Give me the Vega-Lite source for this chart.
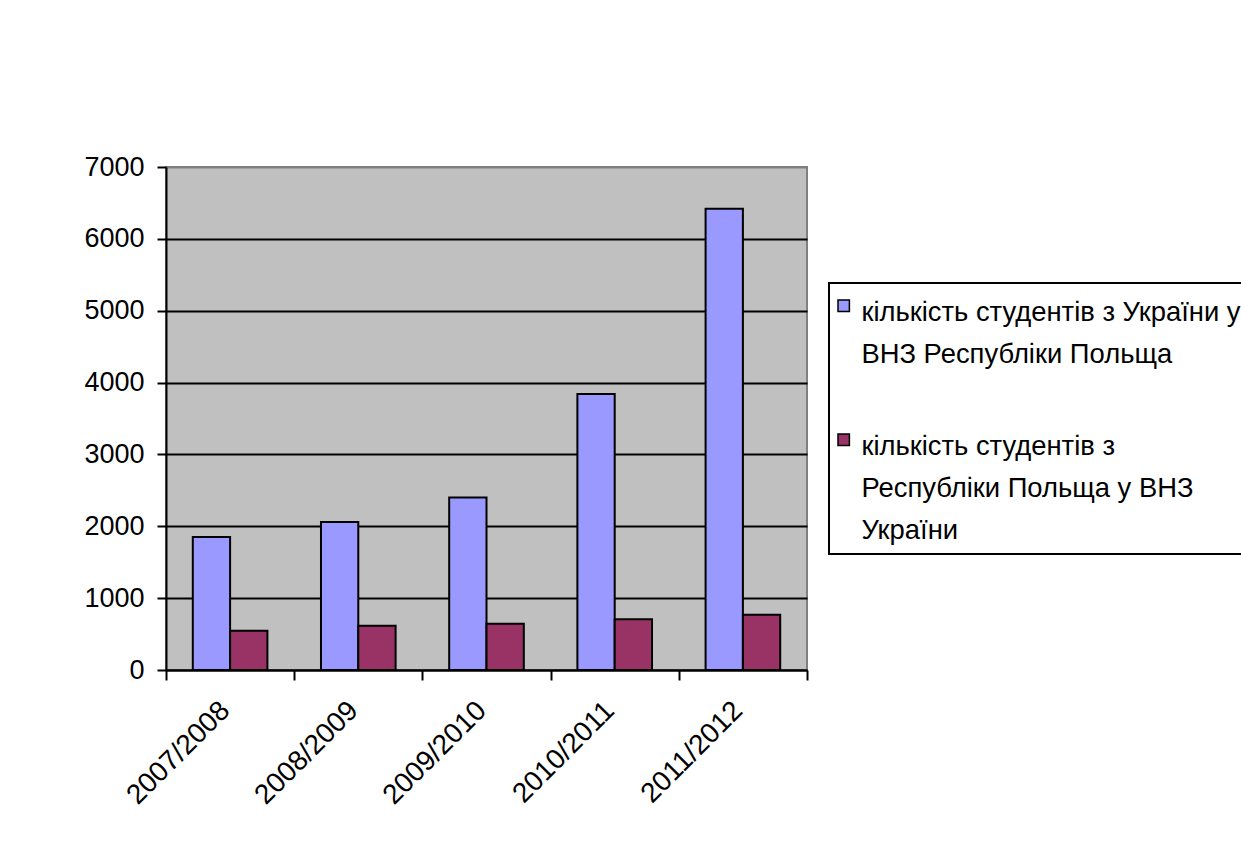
{
  "$schema": "https://vega.github.io/schema/vega-lite/v6.json",
  "width": 641,
  "height": 503,
  "autosize": {"type": "none"},
  "padding": {"left": 166, "top": 167, "right": 434, "bottom": 189},
  "background": "white",
  "data": {
    "values": [
      {"year": "2007/2008", "series": "кількість студентів з України у ВНЗ Республіки Польща", "value": 1850},
      {"year": "2007/2008", "series": "кількість студентів з Республіки Польща у ВНЗ України", "value": 545},
      {"year": "2008/2009", "series": "кількість студентів з України у ВНЗ Республіки Польща", "value": 2060},
      {"year": "2008/2009", "series": "кількість студентів з Республіки Польща у ВНЗ України", "value": 615},
      {"year": "2009/2010", "series": "кількість студентів з України у ВНЗ Республіки Польща", "value": 2400},
      {"year": "2009/2010", "series": "кількість студентів з Республіки Польща у ВНЗ України", "value": 645},
      {"year": "2010/2011", "series": "кількість студентів з України у ВНЗ Республіки Польща", "value": 3840},
      {"year": "2010/2011", "series": "кількість студентів з Республіки Польща у ВНЗ України", "value": 705},
      {"year": "2011/2012", "series": "кількість студентів з України у ВНЗ Республіки Польща", "value": 6420},
      {"year": "2011/2012", "series": "кількість студентів з Республіки Польща у ВНЗ України", "value": 770}
    ]
  },
  "mark": {"type": "bar", "stroke": "black", "strokeWidth": 2},
  "encoding": {
    "x": {
      "field": "year",
      "type": "nominal",
      "sort": null,
      "scale": {"paddingInner": 0, "paddingOuter": 0},
      "axis": {
        "title": null,
        "grid": false,
        "domainColor": "black",
        "domainWidth": 2,
        "tickColor": "black",
        "tickWidth": 2,
        "tickSize": 10,
        "tickBand": "extent",
        "labelAngle": -45,
        "labelAlign": "right",
        "labelBaseline": "middle",
        "labelFontSize": 28,
        "labelColor": "black",
        "labelPadding": 26,
        "labelOffset": -5
      }
    },
    "xOffset": {
      "field": "series",
      "type": "nominal",
      "sort": ["кількість студентів з України у ВНЗ Республіки Польща", "кількість студентів з Республіки Польща у ВНЗ України"],
      "scale": {"paddingInner": 0, "paddingOuter": 0.718}
    },
    "y": {
      "field": "value",
      "type": "quantitative",
      "scale": {"domain": [0, 7000], "nice": false},
      "axis": {
        "title": null,
        "values": [0, 1000, 2000, 3000, 4000, 5000, 6000, 7000],
        "format": "d",
        "grid": true,
        "gridColor": {"condition": {"test": "datum.value === 7000", "value": "#808080"}, "value": "black"},
        "gridWidth": 2,
        "domainColor": "black",
        "domainWidth": 2,
        "tickColor": "black",
        "tickWidth": 2,
        "tickSize": 9,
        "labelPadding": 13,
        "labelFontSize": 27,
        "labelColor": "black"
      }
    },
    "color": {
      "field": "series",
      "type": "nominal",
      "scale": {
        "domain": ["кількість студентів з України у ВНЗ Республіки Польща", "кількість студентів з Республіки Польща у ВНЗ України"],
        "range": ["#9999FF", "#993366"]
      },
      "legend": {
        "title": null,
        "orient": "none",
        "legendX": 663,
        "legendY": 116,
        "symbolType": "square",
        "symbolSize": 130,
        "symbolStrokeColor": "black",
        "symbolStrokeWidth": 1.5,
        "symbolOffset": -8,
        "labelFontSize": 27.4,
        "labelColor": "black",
        "labelLimit": 2000,
        "labelOffset": 4,
        "labelBaseline": "top",
        "rowPadding": 57,
        "padding": 9,
        "fillColor": "white",
        "strokeColor": "black",
        "labelExpr": "datum.value == 'кількість студентів з України у ВНЗ Республіки Польща' ? ['кількість студентів з України у', 'ВНЗ Республіки Польща'] : ['кількість студентів з', 'Республіки Польща у ВНЗ', 'України']",
        "encoding": {
          "labels": {"lineHeight": {"value": 42}, "dy": {"value": -7}},
          "symbols": {"dy": {"value": 7}}
        }
      }
    }
  },
  "config": {
    "font": "Liberation Sans",
    "view": {"fill": "#C0C0C0", "stroke": "#808080", "strokeWidth": 2},
    "legend": {"strokeWidth": 2}
  }
}
